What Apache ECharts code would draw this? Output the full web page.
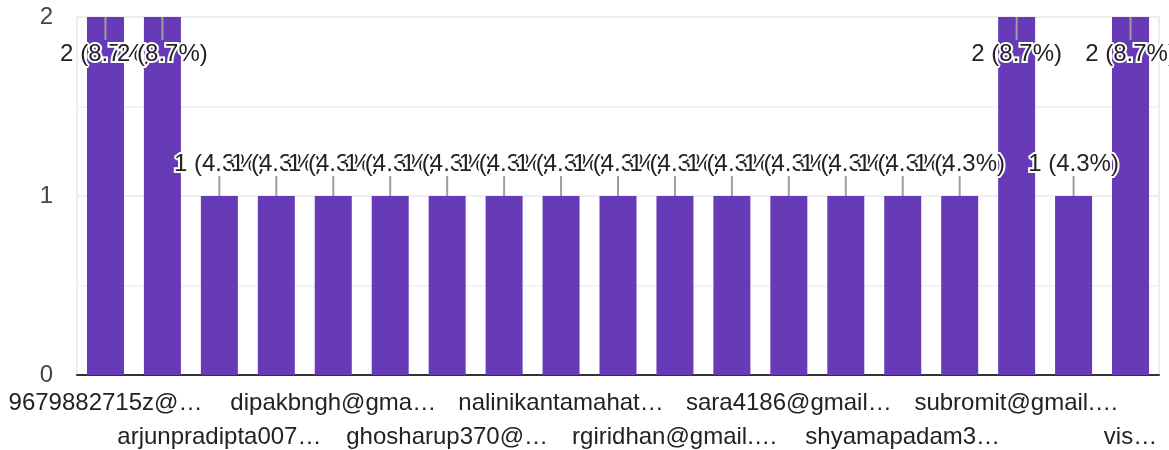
<!DOCTYPE html>
<html>
<head>
<meta charset="utf-8">
<script src="https://cdn.jsdelivr.net/npm/echarts@6/dist/echarts.min.js"></script>
<style>
  html, body { margin: 0; padding: 0; background: #fff; }
  #chart { width: 1169px; height: 450px; }
</style>
</head>
<body>
<div id="chart"></div>
<script>
// categories (sorted, as the form shows them)
var categories = [
	'9679882715z@…', 'amitdas1987@…', 'arjunpradipta007…', 'biswajitpal@…',
	'dipakbngh@gma…', 'ghosh.s@gmail…', 'ghosharup370@…', 'mondalraj@…',
	'nalinikantamahat…', 'pradipkr@gmail…', 'rgiridhan@gmail.…', 'rupamsaha@…',
	'sara4186@gmail…', 'sayantan.d@…', 'shyamapadam3…', 'sourav.k@…',
	'subromit@gmail.…', 'tapasroy@…', 'vis…'
];
var counts = [2, 2, 1, 1, 1, 1, 1, 1, 1, 1, 1, 1, 1, 1, 1, 1, 2, 1, 2];
var yTicks = [0, 1, 2];

var total = counts.reduce(function (a, b) { return a + b; }, 0);
var labelData = counts.map(function (v, i) { return [i, v]; });
var fontFamily = '"Liberation Sans", Arial, sans-serif';
var labelFont = '24px ' + fontFamily;

// two label rows: first row every 4th from 0, second row every 4th from 2
function rowAxis(start, margin, showLine) {
	return {
		type: 'category',
		data: categories,
		position: 'bottom',
		axisLine: { show: showLine, lineStyle: { color: '#333', width: 2 } },
		axisTick: { show: false },
		splitLine: { show: false },
		axisLabel: {
			interval: function (index) { return index % 4 === start; },
			hideOverlap: false,
			margin: margin,
			color: '#222',
			fontSize: 24,
			fontFamily: fontFamily
		}
	};
}

var myChart = echarts.init(document.getElementById('chart'));
var option = {
	animation: false,
	grid: {
		left: 77, right: 10, top: 17, bottom: 75,
		outerBoundsMode: 'none',
		show: true, borderColor: '#eeeeee', borderWidth: 2
	},
	xAxis: [rowAxis(0, 16, true), rowAxis(2, 50, false)],
	yAxis: {
		type: 'value',
		min: yTicks[0],
		max: yTicks[yTicks.length - 1],
		interval: 1,
		axisLine: { show: false },
		axisTick: { show: false },
		axisLabel: {
			margin: 24,
			color: '#444',
			fontSize: 24,
			fontFamily: fontFamily,
			padding: [2, 0, 0, 0]
		},
		splitLine: { lineStyle: { color: '#eeeeee', width: 2 } },
		minorTick: { show: false, splitNumber: 2 },
		minorSplitLine: { show: true, lineStyle: { color: '#f3f3f3', width: 2 } }
	},
	series: [{
		type: 'bar',
		data: counts,
		barWidth: 37,
		itemStyle: { color: '#673ab7' },
		z: 2
	}, {
		// value labels with a short leader line
		type: 'custom',
		data: labelData,
		encode: { x: 0, y: 1 },
		z: 10,
		renderItem: function (params, api) {
			var v = api.value(1);
			var p = api.coord([api.value(0), v]);
			var x = p[0], y = p[1];
			var cs = params.coordSys;
			var y2, ty;
			if (y - 45 < cs.y) {
				y2 = y + 23; ty = y + 37;
			} else {
				y2 = y - 20; ty = y - 32;
			}
			var txt = v + ' (' + (v / total * 100).toFixed(1) + '%)';
			return {
				type: 'group',
				children: [{
					type: 'line',
					shape: { x1: x, y1: y, x2: x, y2: y2 },
					style: { stroke: '#9e9e9e', lineWidth: 2 }
				}, {
					type: 'text',
					style: {
						text: txt, x: x, y: ty,
						align: 'center', verticalAlign: 'middle',
						font: labelFont, fill: '#222',
						stroke: '#fff', lineWidth: 4
					}
				}]
			};
		}
	}]
};
myChart.setOption(option);
</script>
</body>
</html>
